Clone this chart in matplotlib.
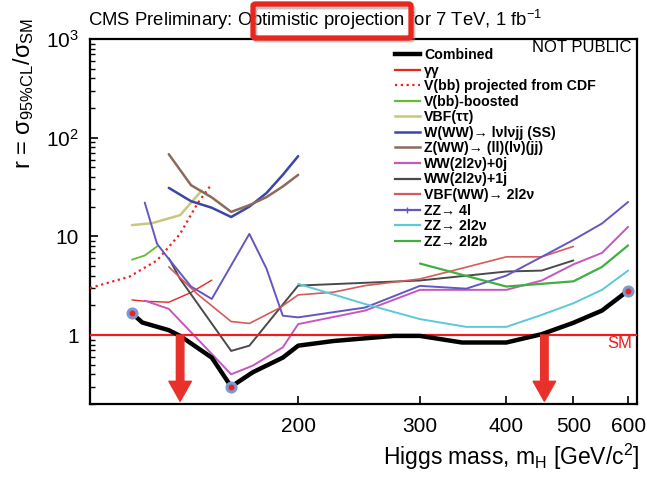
import matplotlib
matplotlib.use('Agg')
import matplotlib.pyplot as plt
from matplotlib import font_manager as fm
from matplotlib.lines import Line2D
from matplotlib.patches import FancyBboxPatch
from matplotlib.ticker import FixedLocator, NullLocator, LogLocator, NullFormatter, FixedFormatter

plt.rcParams['font.family'] = ['Liberation Sans', 'DejaVu Sans']
plt.rcParams['mathtext.fontset'] = 'custom'
plt.rcParams['mathtext.rm'] = 'Liberation Sans'
plt.rcParams['mathtext.it'] = 'Liberation Sans:italic'
plt.rcParams['mathtext.bf'] = 'Liberation Sans:bold'

# ---------------- data ----------------
mass_comb = [115, 119, 130, 135, 150, 160, 172, 190, 200, 225, 275, 300, 345, 400, 450, 500, 550, 600]
r_comb = [1.66, 1.34, 1.12, 0.98, 0.59, 0.30, 0.42, 0.59, 0.78, 0.87, 0.98, 0.98, 0.84, 0.84, 1.02, 1.33, 1.77, 2.82]

mass_gg = [115, 120, 130, 140, 150]
r_gg = [2.27, 2.2, 2.15, 2.7, 3.6]

mass_cdf = [100, 114, 125, 135, 143, 150]
r_cdf = [3.0, 3.9, 5.7, 10.6, 21.5, 34]

mass_vbb = [115, 120, 125]
r_vbb = [5.8, 6.4, 7.9]

mass_tautau = [115, 123, 135, 145]
r_tautau = [13.0, 13.6, 16.4, 29]

mass_wwww = [130, 140, 150, 160, 170, 180, 190, 200]
r_wwww = [31, 22.7, 19.5, 15.7, 20, 27.5, 42, 65]

mass_zww = [130, 140, 150, 160, 170, 180, 190, 200]
r_zww = [68, 33, 24.8, 17.7, 20.7, 25, 32, 42]

mass_ww0j = [120, 130, 160, 172, 190, 200, 250, 300, 400, 450, 500, 550, 600]
r_ww0j = [2.23, 1.84, 0.40, 0.49, 0.75, 1.29, 1.77, 2.87, 2.87, 3.57, 5.2, 6.8, 12.5]

mass_ww1j = [130, 135, 160, 170, 200, 300, 400, 450, 500]
r_ww1j = [6.0, 3.7, 0.69, 0.78, 3.17, 3.57, 4.4, 4.5, 5.7]

mass_vbfww = [130, 143, 160, 170, 188, 200, 225, 250, 300, 350, 400, 450, 500]
r_vbfww = [4.9, 2.6, 1.37, 1.31, 1.88, 2.55, 2.72, 3.17, 3.7, 4.87, 6.2, 6.2, 7.9]

mass_zz4l = [120, 125, 130, 140, 150, 170, 180, 190, 200, 250, 300, 350, 400, 450, 500, 550, 600]
r_zz4l = [22, 8.4, 5.9, 3.1, 2.32, 10.6, 4.7, 1.57, 1.51, 1.9, 3.15, 2.95, 4.0, 6.2, 9.2, 13.5, 22.3]

mass_zz2l2v = [200, 250, 300, 350, 400, 450, 500, 550, 600]
r_zz2l2v = [3.3, 2.06, 1.45, 1.21, 1.21, 1.6, 2.1, 2.87, 4.5]

mass_zz2l2b = [300, 400, 500, 550, 600]
r_zz2l2b = [5.3, 3.1, 3.5, 4.9, 8.1]

marker_mass = [115, 160, 600]
marker_r = [1.66, 0.30, 2.82]

arrow_mass = [135, 454]

labels = ['Combined', 'γγ', 'V(bb) projected from CDF', 'V(bb)-boosted', 'VBF(ττ)',
          'W(WW)→ lνlνjj (SS)', 'Z(WW)→ (ll)(lν)(jj)', 'WW(2l2ν)+0j', 'WW(2l2ν)+1j',
          'VBF(WW)→ 2l2ν', 'ZZ→ 4l', 'ZZ→ 2l2ν', 'ZZ→ 2l2b']

xticks = [200, 300, 400, 500, 600]
xtick_labels = ['200', '300', '400', '500', '600']
yticks = [1, 10, 100, 1000]
ytick_labels = ['1', '10', '$10^2$', '$10^3$']


def bold_font(size):
    for f in fm.fontManager.ttflist:
        if f.fname.endswith('LiberationSans-Bold.ttf'):
            return fm.FontProperties(fname=f.fname, size=size)
    return fm.FontProperties(family=['Liberation Sans', 'DejaVu Sans'], weight='bold', size=size)


# ---------------- figure ----------------
W, H = 647, 478
fig = plt.figure(figsize=(W / 100, H / 100), dpi=100)
fx = lambda px: px / W
fy = lambda py: 1 - py / H
ax = fig.add_axes([fx(90), fy(404), fx(637) - fx(90), fy(39) - fy(404)])
ax.set_xscale('log')
ax.set_yscale('log')

series = [
    (mass_comb, r_comb, 'black', 3.2, '-', 10),
    (mass_gg, r_gg, '#e8261e', 1.0, '-', 4),
    (mass_cdf, r_cdf, '#ee2222', 1.6, (0, (1, 1.6)), 4),
    (mass_vbb, r_vbb, '#66bb33', 1.3, '-', 4),
    (mass_tautau, r_tautau, '#c9c77a', 1.8, '-', 4),
    (mass_wwww, r_wwww, '#3b46a8', 1.8, '-', 4),
    (mass_zww, r_zww, '#8c6a5c', 1.8, '-', 4),
    (mass_ww0j, r_ww0j, '#c557c0', 1.4, '-', 5),
    (mass_ww1j, r_ww1j, '#4a4a4a', 1.4, '-', 5),
    (mass_vbfww, r_vbfww, '#d65a5a', 1.2, '-', 5),
    (mass_zz4l, r_zz4l, '#6457c0', 1.4, '-', 5),
    (mass_zz2l2v, r_zz2l2v, '#5cc8d8', 1.4, '-', 5),
    (mass_zz2l2b, r_zz2l2b, '#3fb03f', 1.6, '-', 5),
]

handles = []
for (m, r, c, lw, ls, z), lab in zip(series, labels):
    ax.plot(m, r, color=c, lw=lw, ls=ls, zorder=z, solid_capstyle='round')
    lw_leg = 3.2 if lab == 'Combined' else max(lw, 1.6)
    if lab == 'ZZ→ 4l':
        handles.append(Line2D([], [], color=c, lw=lw_leg, marker='|', markersize=5, markevery=[1]))
    else:
        handles.append(Line2D([], [], color=c, lw=lw_leg, ls=ls))

# SM line
ax.axhline(1.0, color='#ee1c1c', lw=1.6, zorder=6)
fig.text(fx(632), fy(344), 'SM', color='#ee1c1c', fontsize=12, ha='right', va='center')

# markers
ax.plot(marker_mass, marker_r, 'o', ms=6.5, mfc='#ee2222', mec='#7b9bd0', mew=2.2, zorder=12, clip_on=False)

# arrows
for m in arrow_mass:
    ax.annotate('', xy=(m, 0.213), xytext=(m, 1.0),
                arrowprops=dict(arrowstyle='simple,head_length=0.8,head_width=0.9,tail_width=0.3',
                                color='#e8312a', shrinkA=0, shrinkB=0, mutation_scale=18),
                zorder=11)

ax.set_xlim(100, 618)
ax.set_ylim(0.2, 1000)
ax.xaxis.set_major_locator(FixedLocator(xticks))
ax.xaxis.set_major_formatter(FixedFormatter(xtick_labels))
ax.xaxis.set_minor_locator(NullLocator())
ax.yaxis.set_major_locator(FixedLocator(yticks))
ax.yaxis.set_major_formatter(FixedFormatter(ytick_labels))
ax.yaxis.set_minor_locator(LogLocator(base=10, subs=range(2, 10)))
ax.yaxis.set_minor_formatter(NullFormatter())
ax.tick_params(which='both', direction='in', top=False, right=False, labelsize=15)
ax.tick_params(which='major', length=6, width=1.2)
ax.tick_params(which='minor', length=3.5, width=1.0)
ax.tick_params(axis='x', pad=9)
ax.tick_params(axis='y', pad=8)
for s in ax.spines.values():
    s.set_linewidth(1.6)

# legend
leg = ax.legend(handles, labels, loc='upper left', bbox_to_anchor=(fx(395), fy(48)),
                bbox_transform=fig.transFigure, frameon=False,
                prop=bold_font(10.2),
                handlelength=1.75, handletextpad=0.3, labelspacing=0.11,
                borderpad=0, borderaxespad=0)
leg.set_zorder(20)

# texts
fig.text(fx(632), fy(47), 'NOT PUBLIC', fontsize=12, ha='right', va='center')
fig.text(fx(88), fy(20), 'CMS Preliminary: Optimistic projection for 7 TeV, 1 fb$^{-1}$',
         fontsize=13.3, ha='left', va='center')
fig.text(fx(640), fy(457), 'Higgs mass, m$_{\\mathrm{H}}$ [GeV/c$^{2}$]',
         fontsize=16.5, ha='right', va='center')
fig.text(fx(24), fy(93), 'r = σ$_{\\mathrm{95\\%CL}}$/σ$_{\\mathrm{SM}}$',
         fontsize=17, ha='center', va='center', rotation=90)

# red highlight box around "Optimistic projection"
shadow = FancyBboxPatch((fx(255), fy(40)), fx(412) - fx(254), fy(5) - fy(38),
                        boxstyle='round,pad=0,rounding_size=0.004', transform=fig.transFigure,
                        fill=False, ec='#888888', lw=3.5, alpha=0.5, zorder=29)
fig.patches.append(shadow)
box = FancyBboxPatch((fx(253), fy(38)), fx(411) - fx(253), fy(4) - fy(38),
                     boxstyle='round,pad=0,rounding_size=0.004', transform=fig.transFigure,
                     fill=False, ec='#e8261e', lw=3.8, zorder=30)
fig.patches.append(box)

fig.savefig('out.png', dpi=100)
